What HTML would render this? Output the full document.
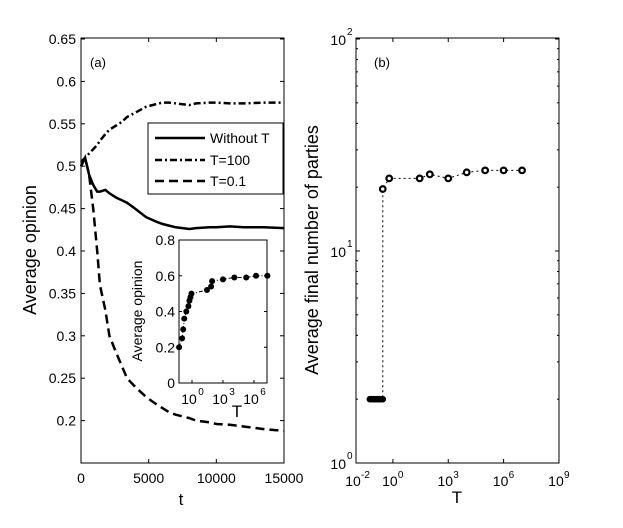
<!DOCTYPE html>
<html><head><meta charset="utf-8"><style>
body{margin:0;background:#fff}
svg text{font-family:"Liberation Sans",sans-serif;fill:#000}
</style></head><body>
<svg id="fig" width="623" height="523" xmlns="http://www.w3.org/2000/svg"></svg>
<script>
// Panel (a) data
const tVals=[0,300,600,900,1200,1400,1800,2100,2600,3000,3400,4000,4800,5500,6000,6500,7000,8000,8500,9500,10000,11000,12000,13500,15000];
const noT=[0.5,0.51,0.49,0.478,0.47,0.47,0.472,0.468,0.463,0.46,0.457,0.45,0.44,0.435,0.432,0.43,0.428,0.426,0.427,0.428,0.428,0.429,0.428,0.428,0.427];
const t100=[0.505,0.51,0.515,0.52,0.525,0.53,0.538,0.543,0.548,0.552,0.558,0.563,0.57,0.573,0.575,0.575,0.574,0.572,0.574,0.575,0.575,0.574,0.574,0.575,0.575];
const t01=[0.5,0.51,0.49,0.45,0.4,0.36,0.33,0.3,0.28,0.265,0.25,0.24,0.228,0.22,0.215,0.21,0.207,0.203,0.2,0.198,0.196,0.195,0.193,0.19,0.188];
const aYTicks=[0.2,0.25,0.3,0.35,0.4,0.45,0.5,0.55,0.6,0.65];
const aXTicks=[0,5000,10000,15000];
// Inset data (log10 T, opinion)
const inLogT=[-1.25,-0.95,-0.85,-0.75,-0.55,-0.35,-0.25,-0.15,-0.05,1.45,1.85,1.95,3.0,4.1,5.25,6.2,7.3];
const inOp=[0.2,0.25,0.3,0.36,0.4,0.43,0.46,0.48,0.5,0.52,0.54,0.57,0.58,0.59,0.59,0.6,0.6];
const inYTicks=[0,0.2,0.4,0.6,0.8];
const inXTicks=[0,3,6];
// Panel (b) data
const bLogTFilled=[-1.25,-1.15,-1.05,-0.95,-0.85,-0.75,-0.65,-0.55];
const bFilled=[2,2,2,2,2,2,2,2];
const bLogT=[-0.55,-0.2,1.45,2.0,3.0,4.0,5.0,6.0,7.0];
const bParties=[19.6,22,22,23,22,23.5,24,24,24];
const bXTicks=[-2,0,3,6,9];
const bYTicks=[0,1,2];

const NS="http://www.w3.org/2000/svg";
const svg=document.getElementById('fig');
function mk(tag,attrs,parent){const e=document.createElementNS(NS,tag);for(const k in attrs)e.setAttribute(k,attrs[k]);(parent||svg).appendChild(e);return e;}
function txt(x,y,s,size,anchor,parent){const e=mk('text',{x:x,y:y,'font-size':size,'text-anchor':anchor||'middle'},parent);e.textContent=s;return e;}

// ---- Panel a ----
const ax=v=>81+(v/15000)*203;
const ay=v=>463-(v-0.15)/0.05*42.4;
const ga=mk('g',{});


const fa=mk('rect',{x:81,y:38,width:203,height:425,fill:'none',stroke:'#000','stroke-width':1},ga);


aYTicks.forEach(v=>{const y=ay(v);mk('line',{x1:81,x2:85,y1:y,y2:y,stroke:'#000'},ga);mk('line',{x1:280,x2:284,y1:y,y2:y,stroke:'#000'},ga);
 const l=txt(76,y+5,String(v),14,'end',ga);});
aXTicks.forEach(v=>{const x=ax(v);mk('line',{x1:x,x2:x,y1:463,y2:459,stroke:'#000'},ga);mk('line',{x1:x,x2:x,y1:38,y2:42,stroke:'#000'},ga);
 const l=txt(x,483,String(v),14,'middle',ga);});
function series(vals,dash,name){const d=tVals.map((t,i)=>(i?'L':'M')+ax(t).toFixed(1)+','+ay(vals[i]).toFixed(1)).join('');
 const p=mk('path',{d:d,fill:'none',stroke:'#000','stroke-width':2.5,'stroke-dasharray':dash},ga);
 }
series(noT,'none','line-without-t');
series(t100,'7,3,2,3','line-t100');
series(t01,'9,5','line-t01');
let l=txt(98,67,'(a)',13,'middle',ga);
l=txt(181,505,'t',17,'middle',ga);
l=txt(0,0,'Average opinion',18,'middle',ga);l.setAttribute('transform','translate(36,250) rotate(-90)');
// legend
const lg=mk('g',{},ga);
mk('rect',{x:148,y:123,width:135,height:71,fill:'#fff',stroke:'#000'},lg);
[['Without T','none',138],['T=100','7,3,2,3',160],['T=0.1','9,5',181]].forEach(([s,d,y])=>{
 const e=mk('line',{x1:155,x2:205,y1:y,y2:y,stroke:'#000','stroke-width':2.5,'stroke-dasharray':d},lg);
 
 const t=txt(210,y+5,s,14,'start',lg);});
// inset
const ix=v=>192+v*10.33;
const iy=v=>383-v/0.8*143;
const gi=mk('g',{},ga);
mk('rect',{x:179,y:240,width:88,height:143,fill:'#fff',stroke:'#000'},gi);
inYTicks.forEach(v=>{const y=iy(v);mk('line',{x1:179,x2:182,y1:y,y2:y,stroke:'#000'},gi);mk('line',{x1:264,x2:267,y1:y,y2:y,stroke:'#000'},gi);
 const t=txt(175,y+5,String(v),14,'end',gi);});
inXTicks.forEach(v=>{const x=ix(v);mk('line',{x1:x,x2:x,y1:383,y2:380,stroke:'#000'},gi);
 const t=txt(x-3,404,'10',14,'middle',gi);
 txt(x+9,395,String(v),10,'middle',gi);});
const ip=mk('path',{d:inLogT.map((v,i)=>(i?'L':'M')+ix(v).toFixed(1)+','+iy(inOp[i]).toFixed(1)).join(''),fill:'none',stroke:'#000','stroke-width':1,'stroke-dasharray':'4,2,1,2'},gi);

inLogT.forEach((v,i)=>{const c=mk('circle',{cx:ix(v),cy:iy(inOp[i]),r:3,fill:'#000'},gi);});
l=txt(0,0,'Average opinion',14,'middle',gi);l.setAttribute('transform','translate(142,311) rotate(-90)');
l=txt(237,417,'T',17,'middle',gi);

// ---- Panel b ----
const bx=v=>356+(v+2)*18.45;
const by=v=>463-Math.log10(v)*212;
const gb=mk('g',{});
const fb=mk('rect',{x:356,y:38,width:203,height:425,fill:'none',stroke:'#000'},gb);

bYTicks.forEach(v=>{const y=463-v*212;mk('line',{x1:356,x2:360,y1:y,y2:y,stroke:'#000'},gb);mk('line',{x1:555,x2:559,y1:y,y2:y,stroke:'#000'},gb);
 const t=txt(346,y+6,'10',14,'end',gb);
 txt(347,y-4,String(v),10,'start',gb);
 if(v<2)for(let m=2;m<10;m++){const yy=y-Math.log10(m)*212;mk('line',{x1:356,x2:358,y1:yy,y2:yy,stroke:'#000'},gb);mk('line',{x1:557,x2:559,y1:yy,y2:yy,stroke:'#000'},gb);}});
bXTicks.forEach(v=>{const x=bx(v);mk('line',{x1:x,x2:x,y1:463,y2:459,stroke:'#000'},gb);mk('line',{x1:x,x2:x,y1:38,y2:42,stroke:'#000'},gb);
 const t=txt(x-3,486,'10',14,'middle',gb);
 txt(x+5,478,String(v),10,'start',gb);});
const allX=bLogTFilled.concat(bLogT),allY=bFilled.concat(bParties);
const bp=mk('path',{d:allX.map((v,i)=>(i?'L':'M')+bx(v).toFixed(1)+','+by(allY[i]).toFixed(1)).join(''),fill:'none',stroke:'#000','stroke-width':1,'stroke-dasharray':'2,3'},gb);

bLogTFilled.forEach((v,i)=>{const c=mk('circle',{cx:bx(v),cy:by(bFilled[i]),r:3.3,fill:'#000'},gb);});
bLogT.forEach((v,i)=>{const c=mk('circle',{cx:bx(v),cy:by(bParties[i]),r:2.8,fill:'#fff',stroke:'#000','stroke-width':2.2},gb);});
l=txt(382,67,'(b)',13,'middle',gb);
l=txt(457,503,'T',17,'middle',gb);
l=txt(0,0,'Average final number of parties',18,'middle',gb);l.setAttribute('transform','translate(318,250) rotate(-90)');
</script>
</body></html>
